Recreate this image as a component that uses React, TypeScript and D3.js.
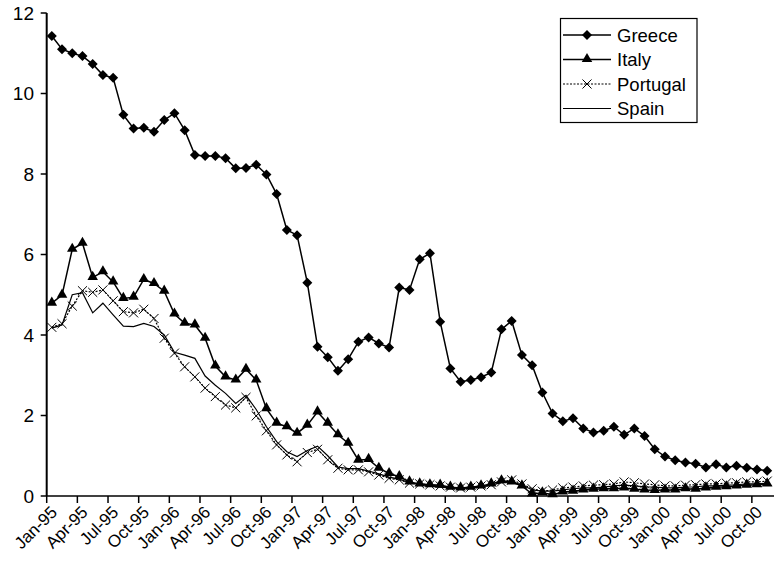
import React, { useEffect } from 'react';
import * as d3 from 'd3';

const years = ['95', '96', '97', '98', '99', '00'];
const monthNames = ['Jan', 'Feb', 'Mar', 'Apr', 'May', 'Jun', 'Jul', 'Aug', 'Sep', 'Oct', 'Nov', 'Dec'];
// Jan-95 .. Nov-00
const categories = years.flatMap(y => monthNames.map(m => m + '-' + y)).slice(0, 71);

const tickLabels = [
  'Jan-95', 'Apr-95', 'Jul-95', 'Oct-95', 'Jan-96', 'Apr-96', 'Jul-96', 'Oct-96',
  'Jan-97', 'Apr-97', 'Jul-97', 'Oct-97', 'Jan-98', 'Apr-98', 'Jul-98', 'Oct-98',
  'Jan-99', 'Apr-99', 'Jul-99', 'Oct-99', 'Jan-00', 'Apr-00', 'Jul-00', 'Oct-00',
];
const yTicks = [0, 2, 4, 6, 8, 10, 12];

const greece = [
  11.43, 11.10, 11.00, 10.93, 10.73, 10.46, 10.39, 9.47, 9.13, 9.15, 9.05, 9.34,
  9.51, 9.09, 8.47, 8.45, 8.45, 8.39, 8.14, 8.15, 8.23, 7.99, 7.50, 6.61,
  6.48, 5.30, 3.71, 3.45, 3.11, 3.40, 3.83, 3.94, 3.79, 3.69, 5.18, 5.12,
  5.88, 6.03, 4.33, 3.17, 2.84, 2.88, 2.95, 3.07, 4.14, 4.35, 3.50, 3.25,
  2.57, 2.05, 1.86, 1.93, 1.68, 1.58, 1.62, 1.72, 1.52, 1.68, 1.49, 1.16,
  0.98, 0.89, 0.83, 0.80, 0.71, 0.79, 0.71, 0.75, 0.70, 0.66, 0.63,
];
const italy = [
  4.79, 4.99, 6.13, 6.28, 5.43, 5.57, 5.32, 4.91, 4.94, 5.38, 5.28, 5.09,
  4.52, 4.29, 4.25, 3.92, 3.23, 2.96, 2.88, 3.15, 2.88, 2.17, 1.81, 1.72,
  1.56, 1.76, 2.09, 1.81, 1.52, 1.31, 0.89, 0.91, 0.69, 0.56, 0.48, 0.35,
  0.30, 0.28, 0.27, 0.22, 0.20, 0.22, 0.25, 0.30, 0.38, 0.35, 0.25, 0.05,
  0.08, 0.03, 0.10, 0.12, 0.15, 0.17, 0.18, 0.18, 0.20, 0.17, 0.15, 0.14,
  0.15, 0.15, 0.18, 0.17, 0.20, 0.22, 0.23, 0.25, 0.27, 0.28, 0.30,
];
const portugal = [
  4.19, 4.28, 4.72, 5.10, 5.06, 5.12, 4.85, 4.58, 4.55, 4.64, 4.41, 3.92,
  3.55, 3.21, 2.96, 2.68, 2.47, 2.26, 2.19, 2.45, 1.99, 1.62, 1.27, 1.02,
  0.85, 1.08, 1.16, 0.90, 0.69, 0.65, 0.65, 0.60, 0.52, 0.44, 0.40, 0.32,
  0.30, 0.28, 0.25, 0.22, 0.20, 0.22, 0.25, 0.28, 0.35, 0.40, 0.30, 0.18,
  0.12, 0.15, 0.20, 0.22, 0.25, 0.27, 0.28, 0.30, 0.35, 0.33, 0.30, 0.28,
  0.25, 0.25, 0.27, 0.28, 0.30, 0.30, 0.32, 0.33, 0.35, 0.35, 0.37,
];
const spain = [
  4.17, 4.25, 5.00, 5.05, 4.55, 4.79, 4.50, 4.22, 4.21, 4.29, 4.21, 4.00,
  3.57, 3.50, 3.42, 2.98, 2.75, 2.55, 2.30, 2.50, 2.15, 1.72, 1.35, 1.10,
  0.98, 1.13, 1.24, 1.00, 0.72, 0.68, 0.68, 0.62, 0.55, 0.47, 0.42, 0.33,
  0.28, 0.25, 0.22, 0.20, 0.18, 0.20, 0.22, 0.27, 0.33, 0.35, 0.28, 0.15,
  0.12, 0.12, 0.15, 0.18, 0.20, 0.20, 0.22, 0.25, 0.27, 0.25, 0.23, 0.22,
  0.20, 0.20, 0.22, 0.23, 0.25, 0.25, 0.27, 0.28, 0.30, 0.30, 0.32,
];

const series = [
  { name: 'Greece', values: greece, marker: 'diamond', dash: null, width: 1.5 },
  { name: 'Italy', values: italy, marker: 'triangle', dash: null, width: 1.5 },
  { name: 'Portugal', values: portugal, marker: 'x', dash: '2,1.5', width: 1.2 },
  { name: 'Spain', values: spain, marker: null, dash: null, width: 1.2 },
];

const font = '"Liberation Sans", Arial, sans-serif';

const symbolPath = {
  diamond: d3.symbol(d3.symbolSquare, 50)(),
  triangle: d3.symbol(d3.symbolTriangle, 48)(),
  x: d3.symbol(d3.symbolX, 55)(),
};

function Marker({ kind, x, y }) {
  if (!kind) return null;
  if (kind === 'x') {
    return <path d={symbolPath.x} transform={`translate(${x},${y})`} fill="none" stroke="#000" strokeWidth={1} />;
  }
  const rot = kind === 'diamond' ? ' rotate(45)' : '';
  const dy = kind === 'triangle' ? -0.5 : 0;
  return <path d={symbolPath[kind]} transform={`translate(${x},${y + dy})${rot}`} fill="#000" />;
}

export default function App() {
  useEffect(() => {
    document.body.style.margin = '0';
  }, []);

  const width = 774;
  const height = 562;
  const left = 46.7;
  const bottom = 496;

  const x = d3.scaleBand().domain(categories).range([left, 772.3]).padding(0);
  const bw = x.bandwidth();
  const cx = (i: number) => x(categories[i]) + bw / 2;
  const y = d3.scaleLinear().domain([0, 12]).range([bottom, 13]);

  const line = d3.line<number>()
    .x((d, i) => cx(i))
    .y(d => y(d));

  const tickIdx = d3.range(0, categories.length, 3);

  return (
    <svg width={width} height={height} style={{ display: 'block', background: '#fff' }} fontFamily={font}>
      {/* y axis */}
      <line x1={left} x2={left} y1={y(12)} y2={bottom} stroke="#000" strokeWidth={2} />
      {yTicks.map(t => (
        <g key={t}>
          <line x1={left - 6} x2={left} y1={y(t)} y2={y(t)} stroke="#000" strokeWidth={1.5} />
          <text x={34} y={y(t)} dy="0.36em" textAnchor="end" fontSize={19}>{t}</text>
        </g>
      ))}

      {/* x axis */}
      <line x1={left} x2={width} y1={bottom} y2={bottom} stroke="#000" strokeWidth={1.5} />
      {tickIdx.map(i => (
        <line key={i} x1={x(categories[i])} x2={x(categories[i])} y1={bottom} y2={bottom + 7} stroke="#000" strokeWidth={1.5} />
      ))}
      {tickIdx.map((i, k) => (
        <text
          key={'l' + i}
          transform={`translate(${cx(i) + 2},${bottom + 13}) rotate(-45)`}
          textAnchor="end"
          dy="0.36em"
          fontSize={17}
        >
          {tickLabels[k]}
        </text>
      ))}

      {/* series */}
      {series.map(s => (
        <g key={s.name}>
          <path d={line(s.values)} fill="none" stroke="#000" strokeWidth={s.width} strokeDasharray={s.dash || undefined} />
          {s.values.map((v, i) => <Marker key={i} kind={s.marker} x={cx(i)} y={y(v)} />)}
        </g>
      ))}

      {/* legend */}
      <rect x={560.5} y={18.5} width={136.5} height={104} fill="#fff" stroke="#000" strokeWidth={1.2} />
      {series.map((s, i) => {
        const ly = 35 + i * 24.5;
        return (
          <g key={'lg' + s.name}>
            <line x1={563} x2={611} y1={ly} y2={ly} stroke="#000" strokeWidth={s.width} strokeDasharray={s.dash || undefined} />
            <Marker kind={s.marker} x={587} y={ly} />
            <text x={617} y={ly} dy="0.36em" fontSize={18.5}>{s.name}</text>
          </g>
        );
      })}
    </svg>
  );
}
